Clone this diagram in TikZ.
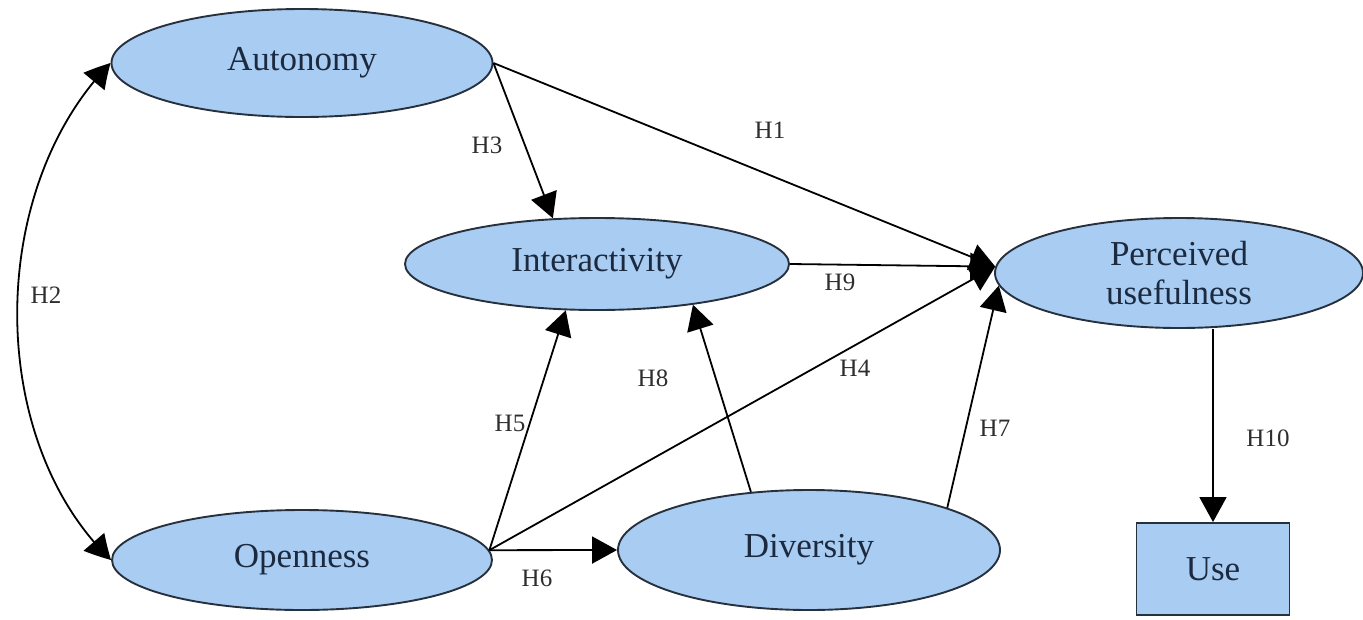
\documentclass[tikz,border=0pt]{standalone}
\usepackage{fontspec}
\setmainfont{Liberation Serif}
\usetikzlibrary{arrows.meta,bending,shapes.geometric}
\definecolor{nodefill}{HTML}{A9CCF2}
\definecolor{nodeline}{HTML}{27313D}
\definecolor{nodetext}{HTML}{1C2A40}
\definecolor{labtext}{HTML}{2E2E2E}
\tikzset{
  construct/.style={ellipse, draw=nodeline, line width=1.9pt, fill=nodefill, inner sep=0pt,
    text=nodetext, font=\fontsize{35}{39}\selectfont, align=center},
  boxnode/.style={rectangle, draw=nodeline, line width=1.9pt, fill=nodefill, inner sep=0pt,
    text=nodetext, font=\fontsize{35}{39}\selectfont},
  link/.style={line width=1.8pt, draw=black, -{Triangle[length=25pt,width=27pt]}},
  hlab/.style={text=labtext, font=\fontsize{25}{28}\selectfont, inner sep=0pt}
}
\begin{document}
\begin{tikzpicture}[x=1pt,y=-1pt]
\useasboundingbox (0,0) rectangle (1363,619);
\node[construct, minimum width=381pt, minimum height=108pt] (aut) at (302,63) {Autonomy};
\node[construct, minimum width=384pt, minimum height=92pt] (int) at (597,264) {Interactivity};
\node[construct, minimum width=368pt, minimum height=110pt] (pu) at (1179,273) {Perceived\\usefulness};
\node[construct, minimum width=380pt, minimum height=100pt] (open) at (302,560) {Openness};
\node[construct, minimum width=382pt, minimum height=120pt] (div) at (809,550) {Diversity};
\node[boxnode, minimum width=153pt, minimum height=92pt] (use) at (1213,569) {Use};

% H2 double-headed curve
\draw[line width=1.8pt, {Triangle[length=25pt,width=27pt,bend]}-{Triangle[length=25pt,width=27pt,bend]}]
  (aut.west) .. controls (-14,190) and (-14,440) .. (open.west);
% other links
\draw[link] (aut.east) -- (pu.178);
\draw[link] (aut.east) -- (int.134);
\draw[link] (int.east) -- (pu.178);
\draw[link] (open.3) -- (pu.178);
\draw[link] (open.3) -- (int.236);
\draw[link] (open.3) -- (div.west);
\draw[link] (div.135) -- (int.337);
\draw[link] (div.17) -- (pu.184);
\draw[link] (use.north |- pu.south) -- (use.north);

% labels
\node[hlab] (l1) at (770,130) {H1};
\node[hlab] (l2) at (46,295) {H2};
\node[hlab] (l3) at (487,145) {H3};
\node[hlab] (l4) at (855,368) {H4};
\node[hlab] (l5) at (510,423) {H5};
\node[hlab] (l6) at (537,578) {H6};
\node[hlab] (l7) at (995,428) {H7};
\node[hlab] (l8) at (653,378) {H8};
\node[hlab] (l9) at (840,282) {H9};
\node[hlab] (l10) at (1268,438) {H10};
\end{tikzpicture}
\end{document}
